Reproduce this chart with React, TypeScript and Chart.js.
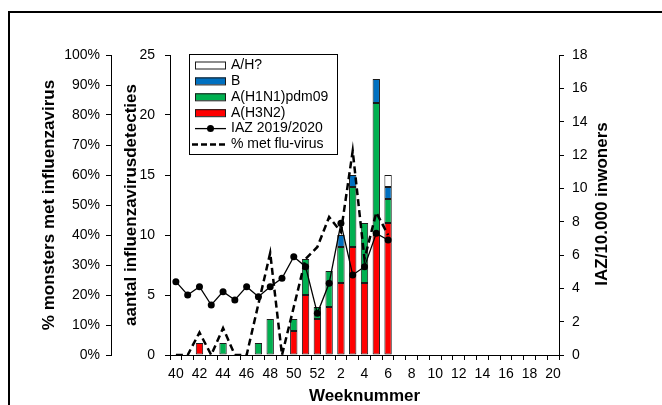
import React, { useEffect, useRef } from "react";
import { Chart, registerables } from "chart.js";

Chart.register(...registerables);

const weeks = [
  "40", "41", "42", "43", "44", "45", "46", "47", "48", "49", "50", "51", "52",
  "1", "2", "3", "4", "5", "6", "7", "8", "9", "10", "11", "12", "13", "14", "15", "16", "17", "18", "19", "20",
];

// number of influenza virus detections per week (stacked)
const h3n2 = [null, null, 1, null, null, null, null, null, null, null, 2, 5, 3, 4, 6, 9, 6, 10, 11];
const h1n1 = [null, null, null, null, 1, null, null, 1, 3, null, 1, 3, 1, 3, 3, 5, 5, 11, 2];
const fluB = [null, null, null, null, null, null, null, null, null, null, null, null, null, null, 1, 1, null, 2, 1];
const aUnknown = [null, null, null, null, null, null, null, null, null, null, null, null, null, null, null, null, null, null, 1];

// IAZ per 10,000 inhabitants (right axis)
const iaz = [4.4, 3.6, 4.1, 3.0, 3.8, 3.3, 4.1, 3.5, 4.1, 4.6, 5.9, 5.3, 2.5, 4.3, 7.9, 4.8, 5.3, 7.3, 6.9];

// % of samples with influenza virus (outer left axis)
const pctFlu = [0, 0, 7.5, 0, 9, 0, 0, 17, 34, 0, 16, 32, 36, 46, 41, 68, 32, 47.5, 40];

const FONT = "'Liberation Sans', Arial, Helvetica, sans-serif";
const RED = "#FF0000";
const GREEN = "#00B050";
const BLUE = "#0070C0";
const WHITE = "#FFFFFF";
const EDGE = "#1a1a1a";

const legendItems = [
  { label: "A/H?", type: "box", color: WHITE },
  { label: "B", type: "box", color: BLUE },
  { label: "A(H1N1)pdm09", type: "box", color: GREEN },
  { label: "A(H3N2)", type: "box", color: RED },
  { label: "IAZ 2019/2020", type: "line" },
  { label: "% met flu-virus", type: "dash" },
];

const customDraw = {
  id: "customDraw",
  afterDraw(chart: any) {
    const ctx = chart.ctx;
    const ca = chart.chartArea;
    // right axis title (reads bottom to top)
    const iazScale = chart.scales.iaz;
    ctx.save();
    ctx.translate(iazScale.left + 43.5, (ca.top + ca.bottom) / 2 - 1);
    ctx.rotate(-Math.PI / 2);
    ctx.font = `bold 17px ${FONT}`;
    ctx.fillStyle = "#000";
    ctx.textAlign = "center";
    ctx.textBaseline = "middle";
    ctx.fillText("IAZ/10.000 inwoners", 0, 0);
    ctx.restore();

    // legend
    const lx = ca.left + 19;
    const ly = ca.top - 1;
    const lw = 149;
    const lh = 101;
    ctx.save();
    ctx.fillStyle = "#fff";
    ctx.fillRect(lx, ly, lw, lh);
    ctx.strokeStyle = "#000";
    ctx.lineWidth = 1;
    ctx.strokeRect(lx + 0.5, ly + 0.5, lw - 1, lh - 1);
    ctx.font = `14px ${FONT}`;
    ctx.textBaseline = "middle";
    ctx.textAlign = "left";
    legendItems.forEach((it, i) => {
      const yc = ly + 11 + i * 15.9;
      const sx = lx + 6;
      const sw = 31;
      if (it.type === "box") {
        ctx.fillStyle = it.color as string;
        ctx.fillRect(sx, yc - 3.5, sw, 7);
        ctx.strokeStyle = EDGE;
        ctx.lineWidth = 1;
        ctx.strokeRect(sx + 0.5, yc - 3.5 + 0.5, sw - 1, 7);
      } else if (it.type === "line") {
        ctx.strokeStyle = "#000";
        ctx.lineWidth = 1.3;
        ctx.setLineDash([]);
        ctx.beginPath();
        ctx.moveTo(sx, yc);
        ctx.lineTo(sx + sw, yc);
        ctx.stroke();
        ctx.fillStyle = "#000";
        ctx.beginPath();
        ctx.arc(sx + sw / 2, yc, 3.5, 0, Math.PI * 2);
        ctx.fill();
      } else {
        ctx.strokeStyle = "#000";
        ctx.lineWidth = 2.5;
        ctx.setLineDash([6, 3]);
        ctx.beginPath();
        ctx.moveTo(sx - 3, yc);
        ctx.lineTo(sx + sw, yc);
        ctx.stroke();
        ctx.setLineDash([]);
      }
      ctx.fillStyle = "#000";
      ctx.fillText(it.label, lx + 42, yc);
    });
    ctx.restore();
  },
};

export default function App() {
  const ref = useRef<HTMLCanvasElement | null>(null);

  useEffect(() => {
    if (!ref.current) return;
    Chart.defaults.font.family = FONT;
    Chart.defaults.color = "#000";

    const barCommon = {
      type: "bar" as const,
      yAxisID: "y",
      xAxisID: "x",
      borderColor: EDGE,
      borderWidth: 1,
      borderSkipped: false,
      categoryPercentage: 1,
      barPercentage: 0.625,
      order: 2,
    };

    const chart = new Chart(ref.current, {
      type: "bar",
      data: {
        labels: weeks,
        datasets: [
          { ...barCommon, label: "A(H3N2)", data: h3n2, backgroundColor: RED },
          { ...barCommon, label: "A(H1N1)pdm09", data: h1n1, backgroundColor: GREEN },
          { ...barCommon, label: "B", data: fluB, backgroundColor: BLUE },
          { ...barCommon, label: "A/H?", data: aUnknown, backgroundColor: WHITE },
          {
            type: "line" as const,
            label: "IAZ 2019/2020",
            data: iaz,
            yAxisID: "iaz",
            borderColor: "#000",
            backgroundColor: "#000",
            borderWidth: 1.3,
            pointRadius: 3.5,
            pointBackgroundColor: "#000",
            pointBorderWidth: 0,
            tension: 0,
            order: 1,
          },
          {
            type: "line" as const,
            label: "% met flu-virus",
            data: pctFlu,
            yAxisID: "pct",
            borderColor: "#000",
            borderWidth: 2.5,
            borderDash: [7, 4],
            pointRadius: 0,
            tension: 0,
            fill: false,
            order: 0,
          },
        ] as any,
      },
      options: {
        animation: false,
        responsive: false,
        devicePixelRatio: 1,
        layout: { padding: { top: 55, left: 0, right: 0, bottom: 0 } },
        plugins: {
          legend: { display: false },
          tooltip: { enabled: false },
        },
        scales: {
          x: {
            type: "category",
            stacked: true,
            offset: true,
            grid: {
              offset: true,
              drawOnChartArea: false,
              drawTicks: true,
              tickLength: 5,
              color: "#000",
            },
            border: { display: true, color: "#000", width: 1 },
            ticks: {
              autoSkip: false,
              maxRotation: 0,
              minRotation: 0,
              padding: 6,
              font: { size: 14 },
              color: "#000",
              callback: (_v: any, idx: number) => (idx % 2 === 0 ? weeks[idx] : ""),
            },
            title: {
              display: true,
              text: "Weeknummer",
              font: { size: 17, weight: "bold" },
              color: "#000",
              padding: { top: 0, bottom: 13.5 },
            },
            afterFit: (s: any) => {
              s.height = 65;
            },
          },
          y: {
            type: "linear",
            position: "left",
            weight: 0,
            stacked: true,
            min: 0,
            max: 25,
            grid: { drawOnChartArea: false, drawTicks: true, tickLength: 5, color: "#000" },
            border: { display: true, color: "#000", width: 1 },
            ticks: { stepSize: 5, padding: 10, font: { size: 14 }, color: "#000" },
            title: {
              display: true,
              text: "aantal influenzavirusdetecties",
              font: { size: 17, weight: "bold" },
              color: "#000",
              padding: { top: 10.5, bottom: 0 },
            },
            afterFit: (s: any) => {
              s.width = 59;
            },
          },
          pct: {
            type: "linear",
            position: "left",
            weight: 1,
            min: 0,
            max: 100,
            grid: { drawOnChartArea: false, drawTicks: true, tickLength: 5, color: "#000" },
            border: { display: true, color: "#000", width: 1 },
            ticks: {
              stepSize: 10,
              padding: 6,
              font: { size: 14 },
              color: "#000",
              callback: (v: any) => `${v}%`,
            },
            title: {
              display: true,
              text: "% monsters met influenzavirus",
              font: { size: 17, weight: "bold" },
              color: "#000",
              padding: { top: 39, bottom: 0 },
            },
            afterFit: (s: any) => {
              s.width = 111;
            },
          },
          iaz: {
            type: "linear",
            position: "right",
            weight: 0,
            min: 0,
            max: 18,
            grid: { drawOnChartArea: false, drawTicks: true, tickLength: 5, color: "#000" },
            border: { display: true, color: "#000", width: 1 },
            ticks: { stepSize: 2, padding: 8, font: { size: 14 }, color: "#000" },
            afterFit: (s: any) => {
              s.width = 103;
            },
          },
        },
      } as any,
      plugins: [customDraw],
    });

    return () => {
      chart.destroy();
    };
  }, []);

  return (
    <div
      style={{
        position: "fixed",
        left: 0,
        top: 0,
        width: 662,
        height: 405,
        overflow: "hidden",
        background: "#fff",
      }}
    >
      <div
        style={{
          position: "absolute",
          left: 8,
          top: 11,
          width: 700,
          height: 450,
          border: "2px solid #000",
          boxSizing: "border-box",
        }}
      />
      <canvas
        ref={ref}
        width={662}
        height={420}
        style={{ position: "absolute", left: 0, top: 0, width: 662, height: 420 }}
      />
    </div>
  );
}
